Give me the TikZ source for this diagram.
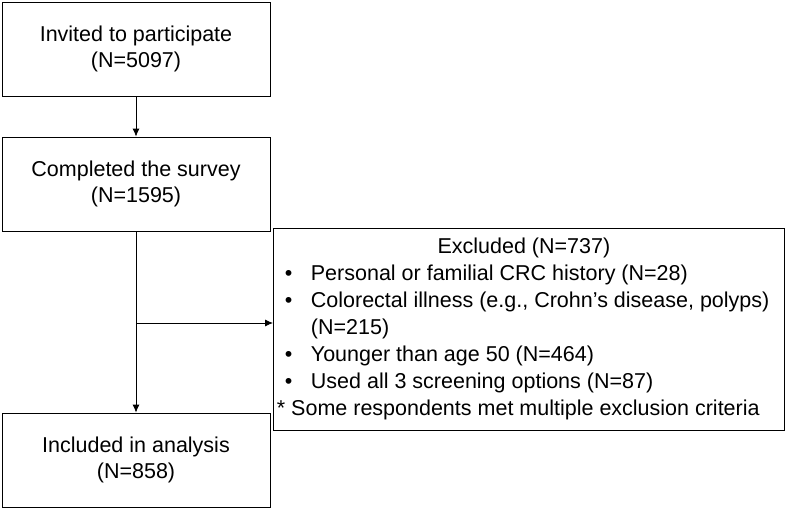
\documentclass[tikz,border=0pt]{standalone}
\usepackage{fontspec}
\setmainfont{Liberation Sans}
\usetikzlibrary{positioning,arrows.meta}
\begin{document}
\begin{tikzpicture}
    [x=1pt,y=-1pt,
    box/.style = {draw, thick, minimum width=268pt, minimum height=94pt,
                  align=center, font=\fontsize{21.5}{26}\selectfont},
    arr/.style = {-{Latex[length=8pt,width=7pt]}, thick}]
    \useasboundingbox (0,0) rectangle (787,517);
    % Main flow
    \node[box] (invited) at (136,49) {Invited to participate\\(N=5097)};
    \node[box] (completed) at (136,184) {Completed the survey\\(N=1595)};
    \node[box] (included) at (136,460) {Included in analysis\\(N=858)};
    % Exclusions
    \node[draw, thick, minimum width=511pt, minimum height=202pt, inner sep=2pt,
          font=\fontsize{21.5}{26}\selectfont, anchor=north west] (excluded) at (273,228)
    {\begin{tabular}{@{}p{34pt}@{}p{470pt}@{}}
        \multicolumn{2}{@{}c@{}}{\hspace{-10pt}Excluded (N=737)}\\[1pt]
        \hspace{8pt}• & Personal or familial CRC history (N=28)\\[1pt]
        \hspace{8pt}• & Colorectal illness (e.g., Crohn’s disease, polyps)\\[1pt]
          & (N=215)\\[1pt]
        \hspace{8pt}• & Younger than age 50 (N=464)\\[1pt]
        \hspace{8pt}• & Used all 3 screening options (N=87)\\[1pt]
        \multicolumn{2}{@{}l@{}}{* Some respondents met multiple exclusion criteria}
    \end{tabular}};
    % Connectors
    \draw[arr] (invited) -- (completed);
    \draw[arr] (completed) -- (included);
    \coordinate (branch) at (136,323);
    \draw[arr] (branch) -- (branch -| excluded.west);
\end{tikzpicture}
\end{document}
